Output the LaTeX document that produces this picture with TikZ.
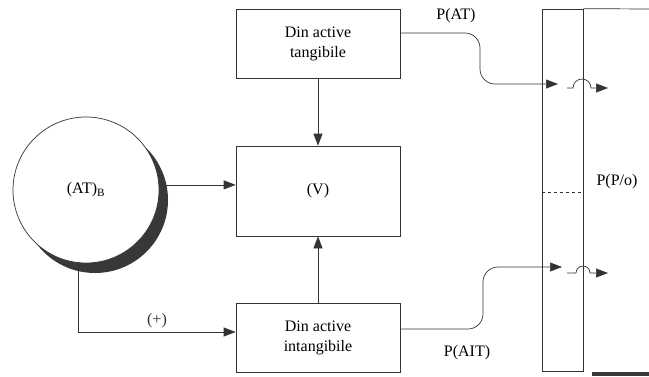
\documentclass[tikz,border=0pt]{standalone}
\usepackage{fontspec}
\setmainfont{Liberation Serif}
\usetikzlibrary{arrows.meta, positioning, calc, shadows}
\definecolor{linecol}{HTML}{333333}
\definecolor{shadowcol}{HTML}{383838}

\begin{document}
\begin{tikzpicture}[
    x=1pt, y=-1pt,
    >={Triangle[length=12pt, width=9pt]},
    box/.style={draw=linecol, line width=0.7pt, minimum width=164pt, inner sep=2pt,
        align=center, font=\fontsize{16}{20}\selectfont},
    lbl/.style={font=\fontsize{16}{20}\selectfont},
    arrow/.style={->, line width=0.7pt, color=linecol},
    wire/.style={line width=0.7pt, color=linecol},
]

\useasboundingbox (0,0) rectangle (649,376);

% ============================================================
%  Boxes
% ============================================================
\node[box, minimum height=69pt] (tang) at (318,43.5) {Din active\\tangibile};
\node[box, minimum height=90pt] (val) at (318,191) {(V)};
\node[box, minimum height=69pt] (intang) at (318,337.5) {Din active\\intangibile};

% firm circle with its shadow
\node[circle, draw=linecol, fill=white, line width=0.7pt, minimum size=146pt, lbl,
    drop shadow={shadow xshift=9pt, shadow yshift=-10pt, fill=shadowcol, opacity=1}]
    (firm) at (86,190) {(AT)\textsubscript{B}};

\draw[arrow] (firm.4) -- (firm.4 -| val.west);
\draw[arrow] (tang) -- (val);
\draw[arrow] (intang) -- (val);
\draw[arrow] (firm.264) |- node[pos=0.75, above, lbl] (plus) {(+)} ([yshift=5.5pt]intang.west);

% ============================================================
%  Column on the right
% ============================================================
\node[draw=linecol, line width=0.7pt, minimum width=41pt, minimum height=362pt, inner sep=0pt]
    (col) at (562.5,190) {};
\coordinate (topend) at (649,9);
\draw[wire] (col.north east) -- (topend);
\draw[wire, dashed] ([yshift=-2pt]col.west) -- ([yshift=-2pt]col.east);
\node[lbl] (ppo) at (617,182) {P(P/o)};
\fill[shadowcol] (592,371.5) rectangle (649,376);

% ============================================================
%  Flows into the column
% ============================================================
\coordinate (inAT) at (558,84);
\draw[arrow, rounded corners=15pt] ([yshift=10.5pt]tang.east) -- (480,33) -- (480,84) -- (inAT);
\node[lbl] (pat) at (456,16) {P(AT)};

\coordinate (jA) at (567,88);
\coordinate (jAend) at (608,88);
\draw[arrow] (jA) -- ++(6,0) arc[start angle=180, end angle=0, radius=9pt] -- (jAend);

\coordinate (inAIT) at (562,267);
\draw[arrow, rounded corners=15pt] ([yshift=8.5pt]intang.east) -- (483,329) -- (483,267) -- (inAIT);
\node[lbl] (pait) at (467,353) {P(AIT)};

\coordinate (jB) at (567,273);
\coordinate (jBend) at (608,273);
\draw[arrow] (jB) -- ++(9,0) arc[start angle=180, end angle=0, radius=7pt] -- (jBend);

\end{tikzpicture}
\end{document}
